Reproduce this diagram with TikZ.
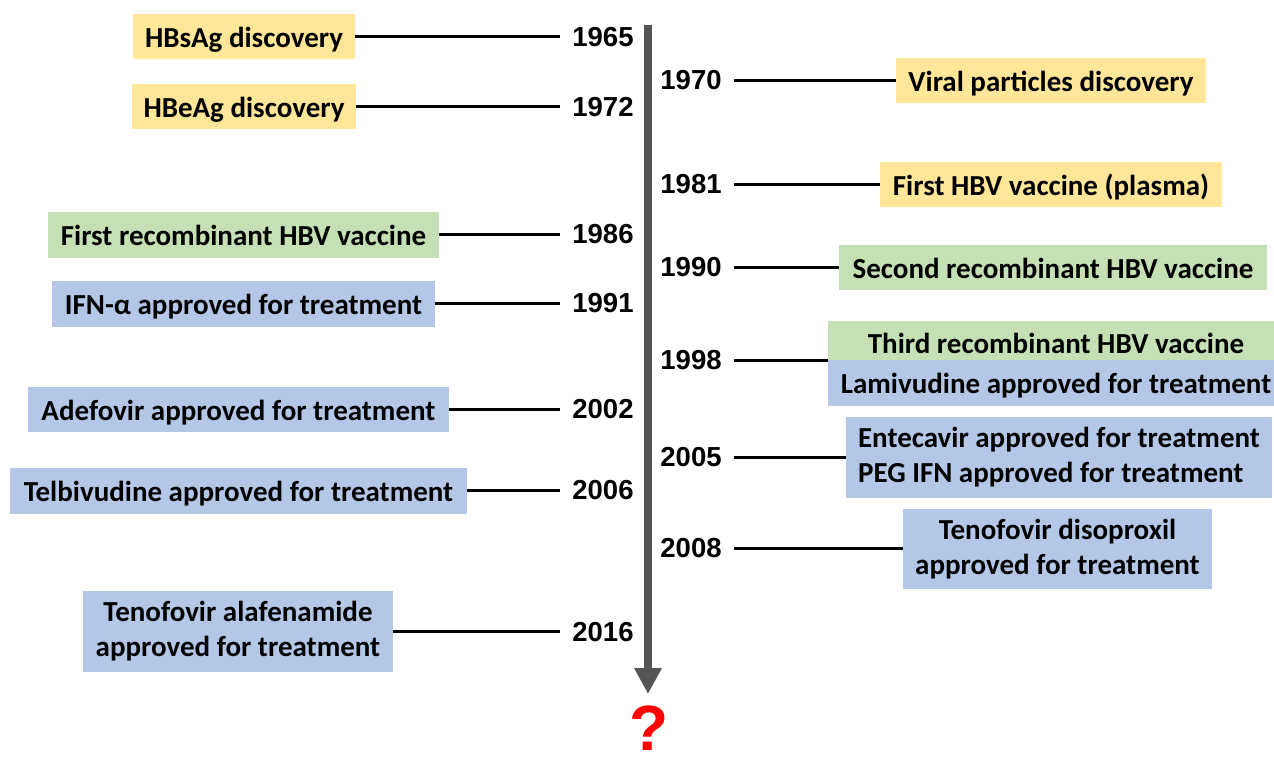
\documentclass[tikz,border=0pt]{standalone}
\usepackage{fontspec}
\newfontfamily\lblfont{Carlito}
\newfontfamily\yrfont{Liberation Sans}
\usetikzlibrary{arrows.meta}
\definecolor{yelc}{HTML}{FFE699}
\definecolor{grnc}{HTML}{C5E0B4}
\definecolor{bluc}{HTML}{B4C7E7}
\definecolor{barc}{HTML}{555555}
\definecolor{qred}{HTML}{FF0000}
\begin{document}
\begin{tikzpicture}[x=1pt,y=-1pt,
  evbox/.style={inner sep=0pt, font=\lblfont\bfseries\fontsize{29}{35}\selectfont},
  oneline/.style={evbox, text height=27pt, text depth=6pt},
  wh/.style 2 args={minimum width=#1pt, minimum height=#2pt},
  yel/.style={fill=yelc}, grn/.style={fill=grnc}, blu/.style={fill=bluc},
  yr/.style={font=\yrfont\bfseries\fontsize{27.5}{32}\selectfont, inner xsep=12pt, inner ysep=0pt},
  conn/.style={line width=2.8pt, black}]
\useasboundingbox (0,0) rectangle (1274,756);

% timeline
\coordinate (bartop) at (648,25);
\coordinate (bartip) at (648,694);
\draw[line width=8pt, barc, -{Triangle[width=26pt,length=26pt]}] (bartop) -- (bartip);
\node[font=\yrfont\bfseries\fontsize{64}{70}\selectfont, text=qred, inner sep=0pt] (qm) at (649,728.5) {?};

% left events
\node[oneline, yel, wh={222}{45}] (e65) at (244,36.5) {HBsAg discovery};
\node[oneline, yel, wh={224}{45}] (e72) at (244,106.5) {HBeAg discovery};
\node[oneline, grn, wh={391}{46}] (e86) at (243.5,234.5) {First recombinant HBV vaccine};
\node[oneline, blu, wh={383}{46}] (e91) at (243.5,303.5) {IFN-α approved for treatment};
\node[oneline, blu, wh={421}{45}] (e02) at (238.5,409.5) {Adefovir approved for treatment};
\node[oneline, blu, wh={457}{46}] (e06) at (238.5,490.5) {Telbivudine approved for treatment};
\node[evbox, blu, wh={310}{81}, align=center] (e16) at (238,631.5) {Tenofovir alafenamide\\approved for treatment};

% left years
\node[yr] (y65) at (603,37) {1965};
\node[yr] (y72) at (603,107) {1972};
\node[yr] (y86) at (603,234) {1986};
\node[yr] (y91) at (603,303) {1991};
\node[yr] (y02) at (603,409) {2002};
\node[yr] (y06) at (603,490) {2006};
\node[yr] (y16) at (603,632) {2016};

% right years
\node[yr] (y70) at (691,80.5) {1970};
\node[yr] (y81) at (691,184.5) {1981};
\node[yr] (y90) at (691,267.5) {1990};
\node[yr] (y98) at (691,360.5) {1998};
\node[yr] (y05) at (691,457.5) {2005};
\node[yr] (y08) at (691,548.5) {2008};

% right events
\node[oneline, yel, wh={310}{45}] (e70) at (1051,80.5) {Viral particles discovery};
\node[oneline, yel, wh={342}{45}] (e81) at (1051,184.5) {First HBV vaccine (plasma)};
\node[oneline, grn, wh={428}{45}] (e90) at (1053,267.5) {Second recombinant HBV vaccine};
\node[evbox, grn, wh={456}{39}, text height=31pt, text depth=6pt] (e98a) at (1056,340.5) {Third recombinant HBV vaccine};
\node[oneline, blu, wh={456}{46}] (e98b) at (1056,383) {Lamivudine approved for treatment};
\node[evbox, blu, wh={426}{81}, align=left] (e05) at (1059,457.5) {Entecavir approved for treatment\\PEG IFN approved for treatment};
\node[evbox, blu, wh={309}{80}, align=center] (e08) at (1057.5,549) {Tenofovir disoproxil\\approved for treatment};

% connectors
\foreach \e/\y in {e65/y65, e72/y72, e86/y86, e91/y91, e02/y02, e06/y06, e16/y16}
  \draw[conn] (\e.east) -- (\e.east -| \y.west);
\foreach \y/\e in {y70/e70, y81/e81, y90/e90, y05/e05, y08/e08}
  \draw[conn] (\y.east) -- (\y.east -| \e.west);
\draw[conn] (y98.east) -- (y98.east -| e98a.south west);
\end{tikzpicture}
\end{document}
